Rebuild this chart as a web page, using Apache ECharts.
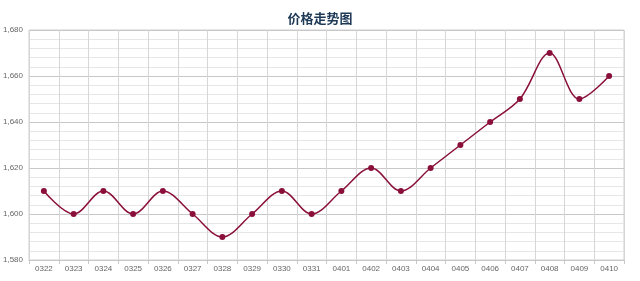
<!DOCTYPE html>
<html><head><meta charset="utf-8">
<script src="https://cdn.jsdelivr.net/npm/echarts@6/dist/echarts.min.js"></script>
<style>html,body{margin:0;padding:0;background:#fff}#c{width:640px;height:281px}</style>
</head><body><div id="c"></div>
<script>
const categories = ['0322','0323','0324','0325','0326','0327','0328','0329','0330','0331','0401','0402','0403','0404','0405','0406','0407','0408','0409','0410'];
const prices = [1610,1600,1610,1600,1610,1600,1590,1600,1610,1600,1610,1620,1610,1620,1630,1640,1650,1670,1650,1660];
const yTicks = {min:1580, max:1680, interval:20};
const titleText = '价格走势图';

const chart = echarts.init(document.getElementById('c'), null, {renderer:'canvas'});
chart.setOption({
  animation:false,
  title:{text:titleText, left:'center', top:7, textStyle:{fontSize:13, fontWeight:'bold', color:'#1e3956', fontFamily:'Noto Sans CJK SC'}},
  grid:{left:29, right:16, top:30, bottom:21, show:true, borderColor:'#cfcfcf', borderWidth:1},
  xAxis:{type:'category', data:categories, boundaryGap:true,
    axisLine:{show:true, lineStyle:{color:'#c8c8c8'}},
    axisTick:{show:true, length:4, lineStyle:{color:'#c8c8c8'}},
    axisLabel:{color:'#666', fontSize:8, fontFamily:'Liberation Sans', margin:5},
    splitLine:{show:true, lineStyle:{color:'#d6d6d6'}}},
  yAxis:{type:'value', min:yTicks.min, max:yTicks.max, interval:yTicks.interval,
    axisLine:{show:false}, axisTick:{show:false},
    axisLabel:{color:'#666', fontSize:8, fontFamily:'Liberation Sans', align:'left', margin:26,
      formatter:v=>v.toLocaleString('en-US')},
    splitLine:{show:true, lineStyle:{color:'#c8c8c8'}},
    minorTick:{show:false, splitNumber:5},
    minorSplitLine:{show:true, lineStyle:{color:'#e6e6e6'}}},
  series:[{type:'line', data:prices, smooth:0.35, symbol:'circle', symbolSize:6,
    lineStyle:{color:'#8a0f3a', width:1.5}, itemStyle:{color:'#8a0f3a'}}]
});
</script></body></html>
